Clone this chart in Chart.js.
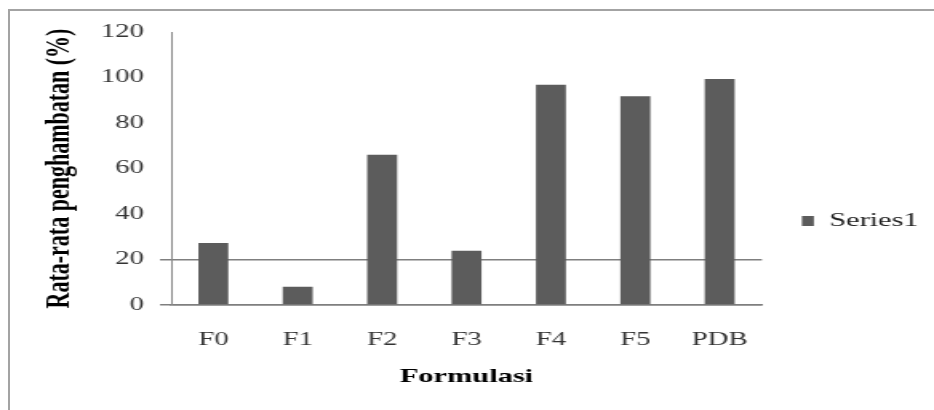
<!DOCTYPE html>
<html>
<head>
<meta charset="utf-8">
<script src="https://cdn.jsdelivr.net/npm/chart.js@4/dist/chart.umd.min.js"></script>
<style>
    html, body { margin: 0; padding: 0; background: #fff; width: 934px; height: 410px; overflow: hidden; }
    #frame { position: absolute; left: 8px; top: 9px; width: 1000px; height: 500px; border: 2px solid #a3a3a3; }
    /* the reference picture is stretched sideways, so the canvas is too */
    #chart { position: absolute; left: 0; top: 0; transform: scaleX(1.5993); transform-origin: 0 0; }
</style>
</head>
<body>
<div id="frame"></div>
<canvas id="chart" width="584" height="410"></canvas>
<script>
const categories = ['F0', 'F1', 'F2', 'F3', 'F4', 'F5', 'PDB'];
const values = [27.3, 8, 66, 23.8, 96.8, 91.8, 99.3];
const seriesName = 'Series1';
const yMin = 0;
const yMax = 120;
const yStep = 20;
const markedLines = [0, 20];

const serif = 'Liberation Serif';
const lineOn = (v) => markedLines.includes(v);

const chart = new Chart(document.getElementById('chart'), {
    type: 'bar',
    data: {
        labels: categories,
        datasets: [{
            label: seriesName,
            data: values,
            backgroundColor: '#5c5c5c',
            borderWidth: 0,
            categoryPercentage: 1,
            barPercentage: 0.355,
        }],
    },
    options: {
        responsive: false,
        animation: false,
        layout: { padding: { top: 32, left: 0, bottom: 0, right: 0 } },
        plugins: {
            tooltip: { enabled: false },
            legend: {
                position: 'right',
                labels: {
                    boxWidth: 7.5,
                    boxHeight: 10,
                    padding: 25,
                    color: '#222',
                    font: { family: serif, size: 19 },
                },
            },
        },
        scales: {
            x: {
                grid: { display: false, drawTicks: false },
                border: { display: true, color: '#7f7f7f', width: 1.5 },
                ticks: { color: '#333', padding: 24, font: { family: serif, size: 18 } },
                title: {
                    display: true,
                    text: 'Formulasi',
                    color: '#000',
                    padding: { top: 0, bottom: 22 },
                    font: { family: serif, size: 19, weight: 'bold' },
                },
                afterFit: (s) => { s.height = 105; },
            },
            y: {
                min: yMin,
                max: yMax,
                grid: {
                    color: (c) => (c.tick && lineOn(c.tick.value)) ? '#7f7f7f' : 'transparent',
                    tickColor: (c) => (c.tick && lineOn(c.tick.value)) ? '#7f7f7f' : 'transparent',
                    lineWidth: 1.5,
                    tickLength: 7,
                },
                border: { display: true, color: '#8a8a8a', width: 1 },
                ticks: { stepSize: yStep, color: '#333', padding: 10, font: { family: serif, size: 18 } },
                title: {
                    display: true,
                    text: 'Rata-rata penghambatan (%)',
                    color: '#000',
                    padding: { top: 24, bottom: 0 },
                    font: { family: serif, size: 22, weight: 'bold' },
                },
                afterFit: (s) => { s.width = 107; },
            },
        },
    },
});

// put the right edge of the plot where the reference has it
const dx = chart.chartArea.right - 476.4;
chart.options.layout.padding.right += dx;
chart.update('none');
</script>
</body>
</html>
